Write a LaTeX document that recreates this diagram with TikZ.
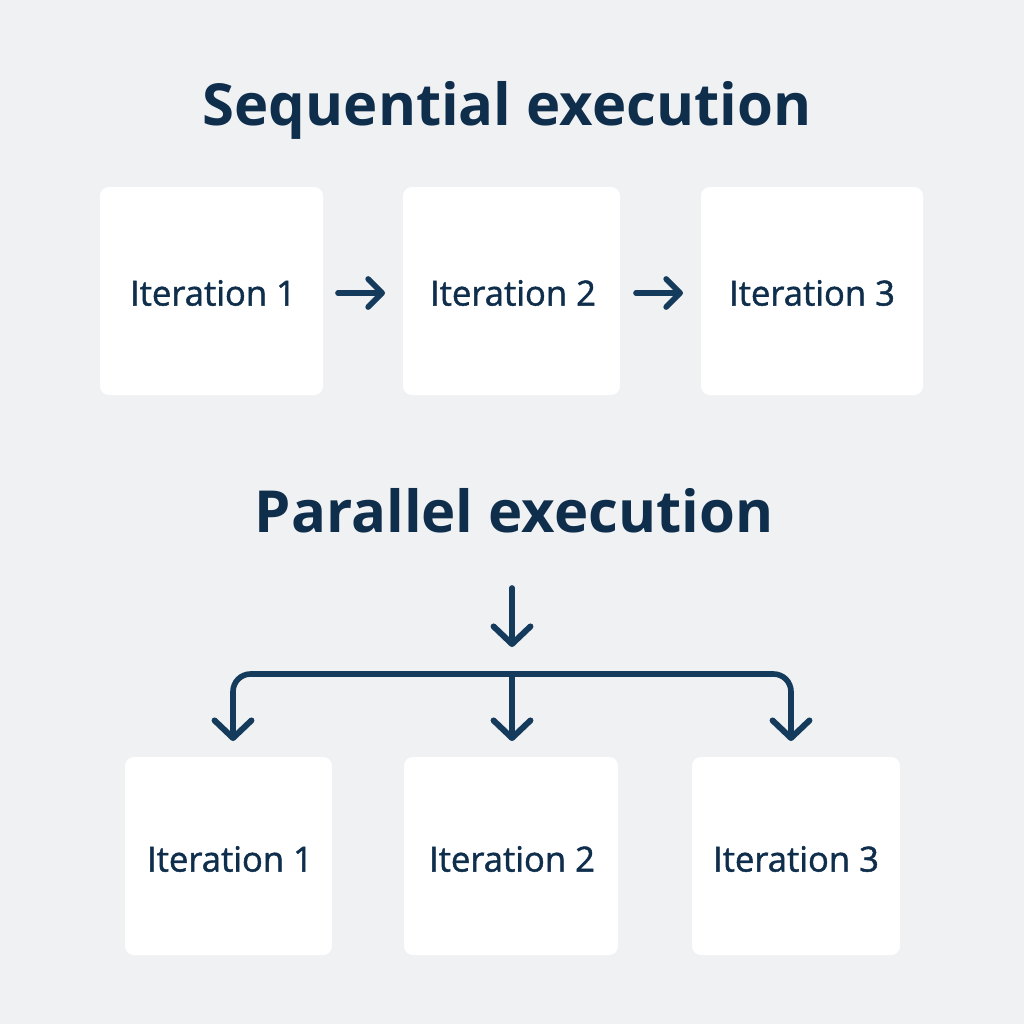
\documentclass[tikz,border=0pt]{standalone}
\usepackage{fontspec}
\setmainfont{Open Sans}
\newfontfamily\lblfont{Open Sans}[FakeBold=1.3]
\usetikzlibrary{arrows.meta}
\definecolor{bg}{HTML}{F0F1F3}
\definecolor{ink}{HTML}{0F2E4C}
\definecolor{arr}{HTML}{153B5C}
\begin{document}
\begin{tikzpicture}[x=0.02cm,y=-0.02cm,
  box/.style={fill=white,rounded corners=5pt,inner sep=0pt},
  lbl/.style={text=ink,font=\lblfont\fontsize{19.7}{24}\selectfont},
  ttl/.style={text=ink,font=\fontsize{33}{40}\selectfont\bfseries},
  conn/.style={draw=arr,line width=3.2pt,line cap=round,line join=round},
  hd/.style={-{Straight Barb[length=8pt,width=16pt,line width=3.2pt,round]}},
  hdb/.style={-{Straight Barb[length=10pt,width=21pt,line width=3.4pt,round]}}]
\fill[bg] (0,0) rectangle (1024,1024);
\node[ttl] (t1) at (507,110) {Sequential execution};
\node[ttl] (t2) at (514,511) {Parallel execution};
% top row
\path[box] (100,187) rectangle (323,395);
\path[box] (403,187) rectangle (620,395);
\path[box] (701,187) rectangle (923,395);
\node[lbl] (s1) at (213,293) {Iteration 1};
\node[lbl] (s2) at (513,293) {Iteration 2};
\node[lbl] (s3) at (812,293) {Iteration 3};
\coordinate (a1s) at (338,293); \coordinate (a1e) at (385,293);
\coordinate (a2s) at (636,293); \coordinate (a2e) at (683,293);
\draw[conn,hd] (a1s) -- (a1e);
\draw[conn,hd] (a2s) -- (a2e);
% bottom row
\path[box] (125,757) rectangle (332,955);
\path[box] (404,757) rectangle (618,955);
\path[box] (692,757) rectangle (900,955);
\node[lbl] (p1) at (230,859) {Iteration 1};
\node[lbl] (p2) at (512,859) {Iteration 2};
\node[lbl] (p3) at (796,859) {Iteration 3};
\coordinate (top) at (512,588);
\coordinate (topend) at (512,647);
\coordinate (mid) at (512,674);
\coordinate (b1) at (233,741);
\coordinate (b2) at (512,741);
\coordinate (b3) at (791,741);
\draw[conn,hdb] (top) -- (topend);
\draw[conn,rounded corners=10pt] (233,720) -- (233,674) -- (791,674) -- (791,720);
\draw[conn,hdb] (233,715) -- (b1);
\draw[conn,hdb] (791,715) -- (b3);
\draw[conn,hdb] (mid) -- (b2);
\end{tikzpicture}
\end{document}
